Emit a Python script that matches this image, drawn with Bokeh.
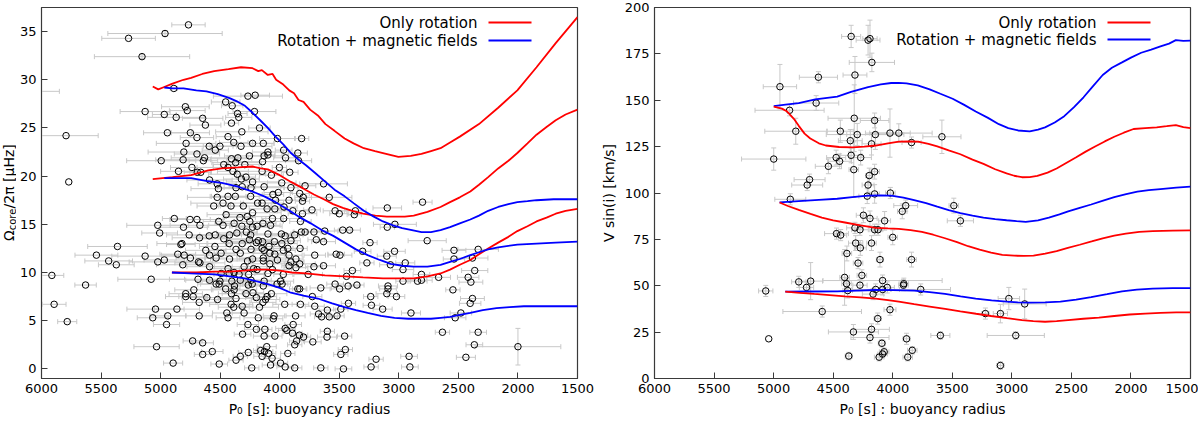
import math

from bokeh.embed import file_html
from bokeh.layouts import row
from bokeh.models import ColumnDataSource, FixedTicker, Label, Range1d, TeeHead, Whisker
from bokeh.plotting import figure
from bokeh.resources import INLINE

# ---------------- data ----------------
x_ticks = [6000, 5500, 5000, 4500, 4000, 3500, 3000, 2500, 2000, 1500]
omega_ticks = [0, 5, 10, 15, 20, 25, 30, 35]
vsini_ticks = [0, 25, 50, 75, 100, 125, 150, 175, 200]

# left panel: core rotation of the stars
p0_core = [
    4766, 4963, 5269, 5156, 4889, 6050, 4267, 4206, 4454, 4399,
    4792, 4776, 5130, 4354, 4212, 4969, 4869, 4344, 4647, 4405,
    4624, 4170, 4943, 4750, 4318, 5794, 4695, 4434, 3816, 4019,
    4786, 4386, 4228, 4138, 4592, 4502, 4325, 4541, 3967, 4805,
    4099, 4695, 3848, 4099, 4131, 4254, 3951, 4631, 4405, 4351,
    4995, 4811, 4641, 3842, 4144, 4370, 4293, 4470, 4737, 4003,
    4850, 4434, 4692, 4663, 4148, 4393, 3916, 4357, 4070, 4589,
    4322, 4283, 5771, 4228, 3983, 3787, 3632, 4525, 4315, 4241,
    4131, 3906, 4515, 4367, 4244, 4057, 4012, 3832, 4525, 4434,
    4373, 3803, 3584, 4035, 3922, 3809, 4476, 4186, 4148, 4554,
    4306, 4409, 4106, 4041, 3964, 3890, 3729, 3097, 2801, 3365,
    3374, 3535, 3500, 3809, 4228, 4450, 4273, 4334, 4061, 3967,
    4885, 4695, 4753, 4512, 4251, 4141, 5024, 3033, 3097, 3826,
    4808, 4476, 4383, 4670, 4318, 4228, 4190, 4077, 3471, 3413,
    3622, 3713, 5008, 4760, 4541, 4470, 4421, 4360, 4280, 4244,
    4099, 3986, 3954, 3874, 3819, 3787, 4673, 4592, 4254, 4180,
    4144, 4044, 3983, 3906, 3693, 3632, 3242, 2762, 4821, 4830,
    4424, 4315, 4196, 5362, 4544, 4367, 4241, 4148, 4090, 3932,
    3829, 4621, 4492, 4331, 4131, 4083, 3970, 3304, 3036, 2537,
    2334, 5539, 5130, 4856, 4802, 4750, 4589, 4534, 4421, 4228,
    4138, 4041, 3922, 3864, 3706, 3526, 3494, 3101, 2382, 2537,
    5436, 5372, 5024, 4969, 4682, 4670, 4270, 4138, 4083, 4019,
    3906, 3832, 3922, 3864, 3268, 3071, 2946, 4589, 4434, 4299,
    4219, 4190, 4061, 3713, 3632, 4814, 2965, 3390, 2363, 5913,
    5079, 4492, 4424, 4383, 4341, 4261, 4099, 3970, 3761, 3439,
    2810, 2666, 2418, 4589, 4502, 4402, 4331, 4241, 4131, 3993,
    3980, 4686, 2965, 2843, 2810, 2395, 4534, 4509, 4380, 4264,
    4231, 4138, 4022, 3535, 3352, 3426, 3091, 5630, 4721, 4454,
    4383, 3848, 3832, 3655, 3497, 3091, 2546, 4789, 4405, 4283,
    4225, 4070, 4106, 4789, 4727, 4612, 4522, 4367, 4196, 4119,
    3726, 3236, 3101, 3020, 2382, 4676, 4141, 4408, 4315, 3958,
    3826, 3706, 3423, 3230, 2401, 5894, 4386, 4170, 3136, 4863,
    5043, 3600, 3487, 4444, 4299, 2898, 2479, 3674, 4940, 4676,
    4048, 3867, 3648, 3584, 3519, 5066, 4434, 4180, 4054, 2527,
    5784, 4950, 4267, 3887, 3954, 4196, 4125, 3940, 3600, 3893,
    4312, 2634, 2334, 4131, 4041, 3835, 3800, 3603, 3455, 4731,
    4647, 3858, 3722, 3874, 5034, 4109, 2000, 2366, 4566, 4160,
    4128, 3449, 4264, 4093, 4647, 3932, 3487, 4148, 4331, 2914,
    2437, 4367, 4064, 3191, 4895, 4508, 3993, 4077, 4235, 3954,
    3874, 3655, 3465, 3233, 2907,
]
omega_core = [
    35.7, 34.8, 34.3, 32.4, 29.1, 28.8, 28.3, 28.4, 27.7, 27.3,
    27.2, 26.8, 26.7, 26.5, 26.7, 26.4, 26.1, 26.1, 26.0, 25.5,
    25.3, 25.0, 24.5, 24.5, 24.6, 24.2, 24.0, 24.1, 23.9, 23.9,
    23.4, 23.5, 23.4, 23.4, 23.1, 23.1, 23.1, 22.7, 22.7, 22.5,
    22.5, 22.3, 22.4, 22.2, 22.1, 22.1, 21.9, 21.9, 21.8, 21.9,
    21.6, 21.7, 21.6, 21.6, 21.5, 21.4, 21.2, 21.2, 20.9, 20.9,
    20.5, 20.9, 20.4, 20.4, 20.5, 20.5, 20.4, 20.2, 20.1, 19.6,
    19.7, 19.9, 19.4, 19.4, 19.3, 19.0, 19.2, 19.2, 18.9, 18.8,
    18.9, 18.8, 18.7, 18.8, 17.9, 18.1, 18.3, 18.2, 17.8, 17.9,
    17.9, 17.8, 17.8, 17.5, 17.5, 17.4, 17.2, 17.2, 17.2, 16.9,
    16.9, 16.9, 16.6, 16.6, 16.8, 16.4, 16.5, 16.7, 17.3, 16.4,
    16.0, 16.4, 16.1, 16.1, 16.2, 16.0, 15.8, 15.7, 15.6, 15.6,
    15.6, 15.5, 15.5, 15.3, 15.3, 15.1, 14.9, 15.0, 14.7, 15.3,
    14.7, 14.9, 15.1, 14.9, 14.8, 14.7, 14.8, 14.9, 14.4, 14.4,
    14.3, 14.2, 14.1, 13.9, 13.9, 13.5, 13.9, 14.1, 14.2, 13.9,
    14.0, 14.0, 13.8, 13.9, 14.2, 14.2, 13.6, 13.8, 13.4, 13.3,
    13.2, 13.2, 13.0, 13.3, 13.4, 13.2, 13.1, 13.3, 13.0, 12.9,
    13.0, 13.0, 13.1, 12.7, 12.7, 12.4, 12.4, 12.5, 12.7, 12.5,
    12.5, 12.3, 12.0, 12.0, 12.3, 12.0, 12.3, 12.2, 12.2, 12.3,
    12.4, 11.8, 11.7, 11.9, 11.8, 11.5, 11.8, 11.5, 11.4, 11.4,
    11.5, 11.9, 11.8, 11.4, 11.8, 11.9, 11.8, 11.7, 11.5, 11.4,
    11.2, 10.8, 11.1, 11.3, 11.1, 11.0, 11.2, 11.2, 10.9, 11.3,
    11.1, 10.9, 10.7, 10.5, 11.0, 10.8, 11.0, 10.6, 10.4, 10.6,
    10.4, 10.3, 10.3, 10.6, 10.7, 10.8, 10.3, 10.2, 10.2, 9.7,
    9.3, 9.9, 9.9, 10.0, 9.8, 9.8, 9.9, 9.8, 9.8, 9.6,
    9.8, 9.5, 9.5, 9.2, 9.1, 9.1, 9.2, 9.2, 9.1, 9.1,
    8.8, 9.3, 9.1, 9.1, 9.2, 9.0, 8.8, 8.8, 8.6, 8.7,
    8.8, 8.6, 8.8, 8.8, 8.7, 8.6, 8.6, 8.7, 8.2, 8.3,
    8.2, 8.3, 8.3, 8.4, 8.3, 8.3, 8.2, 7.8, 7.8, 7.8,
    7.9, 7.8, 7.5, 7.5, 7.5, 7.4, 7.2, 7.3, 7.4, 7.2,
    7.5, 7.5, 7.8, 7.5, 7.3, 6.9, 6.9, 6.7, 6.5, 6.7,
    6.7, 6.5, 6.8, 6.6, 6.8, 6.7, 6.4, 6.4, 6.2, 6.2,
    6.2, 6.1, 6.2, 5.8, 5.8, 5.8, 5.8, 5.7, 5.5, 5.5,
    5.5, 5.5, 5.4, 5.4, 5.5, 5.3, 5.3, 5.3, 5.2, 5.3,
    4.9, 4.6, 4.6, 4.6, 4.2, 4.1, 4.1, 4.0, 3.9, 3.7,
    3.6, 3.8, 3.8, 3.4, 3.4, 3.5, 3.3, 3.3, 3.4, 2.9,
    2.7, 2.9, 2.8, 2.5, 2.3, 2.3, 2.3, 2.5, 1.8, 1.9,
    1.8, 2.0, 1.7, 1.6, 1.5, 1.6, 1.5, 1.3, 1.3, 1.3,
    1.2, 0.9, 1.1, 1.0, 0.6, 0.5, 0.6, 0.4, 0.1, 0.2,
    0.1, 0.1, 0.0, 0.2, 0.2,
]
p0_core_err = [
    140, 480, 225, 400, 30, 200, 290, 120, 120, 90,
    200, 150, 210, 80, 180, 100, 240, 110, 170, 60,
    130, 90, 200, 160, 220, 270, 140, 100, 60, 150,
    250, 120, 180, 90, 200, 140, 260, 110, 70, 300,
    130, 190, 80, 60, 150, 210, 100, 280, 170, 90,
    290, 230, 120, 110, 300, 200, 140, 90, 180, 60,
    150, 260, 110, 90, 210, 130, 70, 240, 100, 190,
    150, 80, 0, 220, 120, 90, 200, 160, 110, 280,
    140, 60, 230, 100, 170, 90, 120, 80, 250, 150,
    200, 70, 190, 130, 100, 60, 270, 120, 180, 140,
    210, 90, 150, 80, 110, 130, 70, 120, 80, 90,
    60, 100, 80, 120, 240, 160, 190, 130, 90, 150,
    100, 220, 170, 130, 280, 110, 260, 180, 60, 90,
    200, 120, 160, 250, 100, 140, 210, 80, 70, 90,
    110, 60, 150, 190, 130, 220, 100, 170, 90, 260,
    140, 80, 120, 70, 60, 100, 230, 150, 190, 110,
    270, 90, 130, 80, 70, 100, 60, 160, 210, 120,
    180, 140, 240, 250, 130, 160, 100, 200, 90, 120,
    60, 170, 110, 220, 80, 140, 100, 70, 90, 100,
    170, 180, 280, 150, 190, 120, 230, 90, 160, 130,
    200, 80, 110, 60, 90, 70, 100, 80, 130, 90,
    200, 150, 240, 170, 120, 210, 140, 90, 180, 70,
    110, 130, 60, 100, 60, 90, 80, 190, 150, 250,
    120, 80, 160, 70, 100, 220, 90, 70, 110, 100,
    280, 170, 130, 90, 210, 140, 110, 80, 120, 60,
    70, 100, 90, 200, 150, 120, 260, 90, 170, 110,
    70, 240, 60, 80, 90, 100, 130, 180, 100, 220,
    80, 140, 90, 70, 60, 100, 80, 90, 160, 120,
    190, 70, 60, 90, 80, 70, 60, 140, 110, 200,
    90, 130, 80, 170, 120, 210, 100, 150, 90, 120,
    80, 60, 90, 70, 100, 140, 110, 180, 90, 100,
    70, 80, 60, 70, 90, 100, 130, 160, 80, 190,
    240, 70, 60, 120, 100, 80, 90, 70, 150, 110,
    90, 80, 60, 70, 60, 130, 100, 120, 80, 90,
    80, 110, 90, 70, 80, 100, 60, 70, 60, 80,
    70, 60, 70, 90, 60, 70, 60, 80, 60, 80,
    90, 60, 70, 60, 190, 80, 360, 70, 90, 60,
    70, 60, 80, 60, 70, 60, 60, 70, 60, 70,
    80, 60, 70, 60, 80, 70, 60, 70, 60, 70,
    60, 60, 70, 60, 70,
]
# the few visible vertical error bars (index in the lists above -> half length)
omega_core_err = {1: 0.3, 3: 0.2, 366: 1.9}

# left panel models
core_rot_top_p0 = [5066, 5020, 4980, 4900, 4808, 4744, 4650, 4550, 4430, 4325, 4228, 4180, 4150, 4100,
                   4060, 4030, 3970, 3920, 3880, 3842, 3800, 3745, 3680, 3616, 3540, 3455, 3380, 3294,
                   3200, 3133, 3004, 2900, 2810, 2730, 2650, 2570, 2488, 2327, 2166, 2005, 1844, 1683, 1500]
core_rot_top = [29.3, 29.0, 29.2, 29.6, 30.0, 30.2, 30.6, 30.9, 31.1, 31.3, 31.2, 30.9, 31.0, 30.5,
                30.6, 30.0, 29.5, 28.9, 28.6, 27.9, 27.7, 26.9, 26.3, 25.4, 24.7, 23.9, 23.4, 22.9,
                22.6, 22.4, 22.0, 22.1, 22.3, 22.6, 22.9, 23.5, 24.1, 25.4, 27.1, 28.9, 31.3, 33.8, 36.5]
core_rot_mid_p0 = [5066, 4900, 4744, 4600, 4486, 4350, 4228, 4160, 4100, 4000, 3906, 3800, 3713, 3630,
                   3552, 3470, 3390, 3300, 3197, 3100, 3036, 2950, 2875, 2760, 2650, 2570, 2488, 2400,
                   2327, 2250, 2166, 2080, 2005, 1920, 1844, 1760, 1683, 1600, 1500]
core_rot_mid = [19.7, 19.9, 20.1, 20.6, 20.8, 20.9, 21.0, 20.8, 20.7, 20.1, 19.4, 18.7, 18.1, 17.6,
                17.1, 16.7, 16.4, 16.1, 15.9, 15.8, 15.8, 15.8, 15.9, 16.3, 16.8, 17.3, 17.8, 18.4,
                19.1, 19.9, 20.8, 21.6, 22.4, 23.4, 24.3, 25.1, 25.8, 26.4, 26.9]
core_rot_bot_p0 = [4905, 4700, 4550, 4421, 4300, 4200, 4100, 4000, 3900, 3777, 3620, 3455, 3300, 3133,
                   3000, 2875, 2760, 2650, 2570, 2488, 2400, 2327, 2250, 2166, 2080, 2005, 1920, 1844,
                   1760, 1683, 1600, 1500]
core_rot_bot = [10.0, 10.0, 10.1, 10.1, 10.2, 10.3, 10.3, 10.2, 10.0, 9.9, 9.7, 9.6, 9.5, 9.4,
                9.4, 9.4, 9.6, 9.9, 10.3, 10.8, 11.3, 11.9, 12.5, 13.1, 13.7, 14.3, 14.8, 15.3,
                15.7, 16.1, 16.4, 16.6]
core_mag_top_p0 = [4969, 4900, 4808, 4700, 4615, 4520, 4421, 4350, 4292, 4230, 4164, 4100, 4035, 3970,
                   3906, 3840, 3777, 3700, 3616, 3540, 3455, 3380, 3294, 3210, 3133, 3050, 2972, 2890,
                   2810, 2730, 2650, 2570, 2488, 2400, 2327, 2250, 2166, 2080, 2005, 1920, 1844, 1700, 1500]
core_mag_top = [29.2, 29.1, 29.1, 28.9, 28.8, 28.5, 28.1, 27.7, 27.3, 26.6, 25.8, 25.0, 24.1, 23.3,
                22.4, 21.7, 21.1, 20.3, 19.4, 18.6, 17.9, 17.2, 16.4, 15.8, 15.3, 14.9, 14.6, 14.4,
                14.2, 14.2, 14.4, 14.7, 15.1, 15.5, 15.9, 16.4, 16.8, 17.1, 17.3, 17.4, 17.5, 17.6, 17.6]
core_mag_mid_p0 = [4969, 4850, 4744, 4620, 4486, 4350, 4228, 4130, 4035, 3940, 3842, 3740, 3648, 3550,
                   3455, 3360, 3262, 3160, 3068, 2970, 2875, 2760, 2650, 2570, 2488, 2400, 2327, 2250,
                   2166, 2005, 1844, 1683, 1500]
core_mag_mid = [19.8, 19.8, 19.8, 19.5, 19.3, 18.9, 18.4, 17.9, 17.3, 16.6, 15.8, 15.1, 14.4, 13.8,
                13.1, 12.4, 11.8, 11.3, 10.9, 10.7, 10.6, 10.6, 10.8, 11.1, 11.4, 11.8, 12.1, 12.4,
                12.6, 12.9, 13.0, 13.1, 13.2]
core_mag_bot_p0 = [4905, 4750, 4550, 4420, 4292, 4200, 4100, 4000, 3906, 3800, 3680, 3560, 3455, 3360,
                   3262, 3150, 3036, 2920, 2810, 2730, 2650, 2570, 2488, 2400, 2295, 2180, 2070, 1950,
                   1844, 1700, 1500]
core_mag_bot = [10.0, 9.9, 9.8, 9.6, 9.4, 9.1, 8.8, 8.4, 7.9, 7.6, 7.3, 6.8, 6.4, 6.1,
                5.8, 5.5, 5.3, 5.2, 5.2, 5.2, 5.3, 5.4, 5.6, 5.8, 6.1, 6.3, 6.4, 6.5,
                6.5, 6.5, 6.5]

# right panel: surface velocities
p0_surf = [4349, 4207, 4191, 4175, 4624, 4317, 4947, 4643, 4866, 4323,
           4152, 4814, 4440, 4298, 4146, 4023, 3949, 3587, 4356, 4178,
           3842, 4999, 4475, 4349, 4446, 4269, 4540, 4327, 4152, 4197,
           4698, 4718, 4207, 4860, 4214, 4152, 4020, 3891, 3920, 3487,
           4246, 4191, 4068, 3432, 4317, 4275, 4152, 4123, 4472, 4437,
           4000, 4311, 4178, 4272, 4385, 4107, 3842, 4291, 4259, 4404,
           4789, 4689, 4388, 4085, 3907, 3910, 4275, 4724, 4046, 4143,
           4085, 3765, 4378, 5066, 4165, 3025, 2892, 4023, 4592, 3222,
           3096, 4126, 4178, 4330, 4191, 3600, 2967, 5041, 3884, 4091,
           3836, 4072, 4085, 4369, 4114, 3874, 3096]
vsini = [184.4, 182.4, 183.2, 170.4, 162.4, 163.6, 157.3, 148.5, 144.6, 140.3,
         139.1, 133.3, 133.3, 131.5, 131.5, 132.3, 132.3, 130.3, 128.2, 126.5,
         127.2, 118.3, 119.1, 120.3, 117.1, 119.1, 114.4, 112.6, 111.5, 109.4,
         107.2, 104.3, 104.3, 96.6, 98.3, 99.5, 100.0, 93.2, 90.1, 93.2,
         88.0, 86.3, 85.0, 85.0, 81.2, 80.2, 80.2, 80.2, 78.1, 77.3,
         76.1, 73.0, 73.0, 70.4, 67.4, 64.1, 64.1, 62.2, 55.6, 54.5,
         52.1, 52.5, 51.1, 52.8, 51.1, 50.3, 50.3, 49.1, 49.1, 48.0,
         48.0, 48.0, 47.4, 47.2, 45.5, 43.1, 40.2, 37.1, 36.1, 35.0,
         35.0, 32.3, 26.5, 25.1, 22.1, 23.2, 23.2, 21.4, 21.4, 19.0,
         15.2, 14.4, 13.2, 12.1, 11.5, 11.5, 7.0]
p0_surf_err = [80, 100, 60, 190, 160, 100, 140, 190, 290, 220,
               120, 260, 110, 260, 240, 170, 280, 160, 100, 80,
               80, 270, 80, 90, 100, 90, 110, 40, 40, 30,
               130, 130, 50, 130, 70, 40, 40, 100, 40, 40,
               60, 60, 50, 110, 70, 70, 40, 40, 100, 50,
               40, 60, 40, 50, 40, 30, 40, 40, 40, 40,
               60, 100, 40, 500, 40, 40, 60, 60, 60, 200,
               70, 250, 40, 60, 90, 90, 180, 50, 330, 30,
               60, 30, 150, 210, 160, 80, 240, 0, 30, 30,
               40, 40, 40, 30, 40, 40, 30]
vsini_err = [6, 8, 10, 5, 3, 10, 12, 4, 3, 18,
             4, 7, 6, 6, 8, 13, 5, 9, 6, 6,
             3, 6, 4, 4, 4, 4, 4, 15, 4, 4,
             3, 3, 4, 3, 4, 5, 3, 3, 4, 4,
             4, 4, 5, 3, 3, 3, 3, 3, 3, 3,
             4, 4, 4, 4, 4, 4, 4, 3, 3, 15,
             3, 10, 3, 3, 3, 3, 3, 3, 3, 3,
             3, 3, 4, 3, 3, 6, 8, 3, 3, 3,
             5, 3, 3, 4, 3, 2, 2, 0, 3, 2,
             2, 2, 2, 2, 2, 2, 2]

# right panel models
surf_mag_top_p0 = [4999, 4900, 4789, 4650, 4466, 4350, 4207, 4100, 4013, 3950, 3884, 3790, 3690, 3600,
                   3497, 3400, 3303, 3200, 3109, 3030, 2947, 2850, 2780, 2721, 2640, 2560, 2480, 2398,
                   2320, 2237, 2160, 2075, 2000, 1914, 1830, 1752, 1680, 1623, 1560, 1500]
surf_mag_top = [146.8, 147.6, 148.5, 150.5, 152.0, 154.5, 157.1, 158.5, 159.3, 159.4, 159.1, 158.0, 155.9, 153.5,
                150.8, 147.5, 143.9, 140.5, 137.1, 135.0, 133.7, 133.2, 134.2, 135.4, 138.0, 141.4, 146.2, 151.6,
                157.5, 163.6, 167.5, 170.4, 173.0, 175.6, 177.3, 179.0, 180.5, 182.4, 182.0, 182.1]
surf_rot_top_p0 = [4999, 4930, 4886, 4830, 4789, 4740, 4692, 4620, 4562, 4450, 4336, 4240, 4143, 4040,
                   3949, 3860, 3787, 3700, 3626, 3530, 3432, 3330, 3238, 3140, 3044, 2980, 2915, 2850,
                   2786, 2700, 2624, 2540, 2463, 2380, 2301, 2220, 2140, 2060, 1978, 1880, 1784, 1700,
                   1623, 1560, 1500]
surf_rot_top = [146.5, 145.5, 143.9, 140.0, 136.2, 132.0, 129.4, 126.8, 125.6, 124.8, 124.6, 125.0, 125.6, 126.8,
                127.7, 127.8, 127.7, 126.5, 125.1, 123.0, 120.9, 118.0, 115.7, 112.8, 110.6, 109.3, 108.5, 108.6,
                109.2, 111.0, 113.2, 116.3, 119.1, 122.3, 125.1, 127.8, 130.3, 132.5, 134.5, 135.0, 135.4, 136.0,
                136.6, 135.5, 135.0]
surf_mag_mid_p0 = [4950, 4789, 4620, 4466, 4340, 4207, 4100, 4013, 3910, 3820, 3720, 3626, 3530, 3432,
                   3330, 3238, 3140, 3044, 2960, 2883, 2780, 2689, 2600, 2527, 2430, 2334, 2240, 2140,
                   2040, 1946, 1850, 1752, 1620, 1500]
surf_mag_mid = [94.9, 95.6, 96.3, 96.9, 97.8, 98.6, 98.7, 98.6, 97.5, 96.1, 94.5, 92.6, 90.8, 89.2,
                87.8, 86.7, 85.9, 85.3, 84.8, 84.4, 85.3, 86.7, 88.5, 90.1, 92.0, 93.8, 95.8, 97.8,
                99.4, 100.7, 101.5, 102.1, 102.9, 103.4]
surf_rot_mid_p0 = [4950, 4880, 4789, 4690, 4595, 4500, 4401, 4270, 4143, 4040, 3949, 3850, 3755, 3660,
                   3561, 3460, 3367, 3270, 3174, 3080, 2980, 2900, 2818, 2720, 2624, 2530, 2430, 2330,
                   2237, 2140, 2043, 1930, 1817, 1650, 1500]
surf_rot_mid = [94.9, 93.0, 90.9, 88.7, 86.7, 85.3, 84.1, 82.5, 81.2, 80.9, 80.7, 80.0, 79.0, 77.5,
                75.6, 73.5, 71.3, 69.5, 67.9, 66.6, 66.2, 66.1, 66.2, 67.3, 68.7, 70.4, 72.1, 73.9,
                75.6, 77.0, 78.1, 79.0, 79.5, 79.7, 79.8]
surf_mag_bot_p0 = [4902, 4700, 4466, 4300, 4143, 4000, 3820, 3690, 3561, 3430, 3303, 3170, 3044, 2950,
                   2850, 2720, 2592, 2460, 2334, 2200, 2075, 1950, 1817, 1650, 1500]
surf_mag_bot = [46.8, 46.9, 47.0, 47.4, 47.7, 47.6, 47.4, 46.6, 45.6, 44.3, 43.1, 42.1, 41.4, 41.0,
                40.9, 41.0, 41.4, 42.5, 43.9, 45.5, 47.0, 47.9, 48.5, 48.7, 48.7]
surf_rot_bot_p0 = [4902, 4780, 4659, 4530, 4401, 4270, 4143, 4040, 3949, 3820, 3690, 3560, 3432, 3300,
                   3174, 3040, 2915, 2820, 2721, 2624, 2527, 2400, 2269, 2140, 2011, 1880, 1752, 1620, 1500]
surf_rot_bot = [46.8, 46.2, 45.6, 45.0, 44.3, 43.7, 43.1, 42.3, 41.4, 40.1, 38.8, 37.5, 36.2, 34.9,
                33.7, 32.5, 31.5, 30.9, 30.6, 30.9, 31.5, 32.2, 32.8, 33.7, 34.5, 35.0, 35.4, 35.6, 35.7]

legend_labels = ["Only rotation", "Rotation + magnetic fields"]

# ---------------- styling ----------------
FONT = "DejaVu Sans"
RED = "#ff0000"
BLUE = "#0000ff"
GRAY = "#c8c8c8"
EDGE = "#3a3a3a"
FRAME_H = 371
TOP, BOTTOM = 7, 40


def make_fig(y_range, frame_w, left, right, ticks_y):
    p = figure(x_range=Range1d(6000, 1500), y_range=y_range,
               frame_width=frame_w, frame_height=FRAME_H,
               min_border_left=left, min_border_right=right,
               min_border_top=TOP, min_border_bottom=BOTTOM,
               output_backend="svg", toolbar_location=None)
    p.xgrid.visible = False
    p.ygrid.visible = False
    p.outline_line_color = EDGE
    p.outline_line_width = 1.2
    p.xaxis.ticker = FixedTicker(ticks=x_ticks)
    p.yaxis.ticker = FixedTicker(ticks=ticks_y)
    for ax in (p.xaxis, p.yaxis):
        ax.major_tick_in = 6
        ax.major_tick_out = 0
        ax.minor_tick_line_color = None
        ax.axis_line_color = EDGE
        ax.major_tick_line_color = EDGE
        ax.major_label_text_font = FONT
        ax.major_label_text_font_size = "13px"
        ax.major_label_text_color = "black"
        ax.axis_label_text_font = FONT
        ax.axis_label_text_font_size = "14px"
        ax.axis_label_text_font_style = "normal"
        ax.axis_label_text_color = "black"
    return p


def add_points(p, xs, ys, xerr, yerr):
    xi = [i for i in range(len(xs)) if xerr[i] > 0]
    yi = [i for i in range(len(xs)) if yerr.get(i, 0) > 0]
    xsrc = ColumnDataSource(dict(base=[ys[i] for i in xi],
                                 lower=[xs[i] - xerr[i] for i in xi],
                                 upper=[xs[i] + xerr[i] for i in xi]))
    ysrc = ColumnDataSource(dict(base=[xs[i] for i in yi],
                                 lower=[ys[i] - yerr[i] for i in yi],
                                 upper=[ys[i] + yerr[i] for i in yi]))
    for src, dim in ((xsrc, "width"), (ysrc, "height")):
        w = Whisker(source=src, base="base", lower="lower", upper="upper", dimension=dim,
                    line_color=GRAY, line_width=1, level="underlay",
                    lower_head=TeeHead(size=5, line_color=GRAY, line_width=1),
                    upper_head=TeeHead(size=5, line_color=GRAY, line_width=1))
        p.add_layout(w)
    p.scatter(xs, ys, marker="circle", size=6.5, fill_color=None,
              line_color="black", line_width=1)


def add_legend(p, frame_w, text_right, line_x0, line_x1, rows_px):
    xr, yr = p.x_range, p.y_range
    dx = (xr.start - xr.end) / frame_w
    dy = (yr.end - yr.start) / FRAME_H
    for label, color, py in zip(legend_labels, (RED, BLUE), rows_px):
        y = yr.end - py * dy
        p.add_layout(Label(x=xr.start - text_right * dx, y=y, text=label,
                           text_align="right", text_baseline="middle",
                           text_font=FONT, text_font_size="15px", text_color="black"))
        p.segment(x0=[xr.start - line_x0 * dx], y0=[y], x1=[xr.start - line_x1 * dx], y1=[y],
                  line_color=color, line_width=2)


# ---------------- left panel ----------------
W1 = 536
p1 = make_fig(Range1d(-1, 37.5), W1, 22, 20, omega_ticks)
p1.xaxis.axis_label = "P\u2080 [s]: buoyancy radius"
add_points(p1, p0_core, omega_core, p0_core_err, omega_core_err)
for xs, ys, c in ((core_rot_top_p0, core_rot_top, RED), (core_rot_mid_p0, core_rot_mid, RED),
                  (core_rot_bot_p0, core_rot_bot, RED), (core_mag_top_p0, core_mag_top, BLUE),
                  (core_mag_mid_p0, core_mag_mid, BLUE), (core_mag_bot_p0, core_mag_bot, BLUE)):
    p1.line(xs, ys, line_color=c, line_width=1.8)
add_legend(p1, W1, 436, 447, 490, (15, 33))

# y label of the left panel with its subscript: a narrow strip holding three rotated labels
LAB_W = 16
lab = figure(x_range=Range1d(0, LAB_W), y_range=p1.y_range,
             frame_width=LAB_W, frame_height=FRAME_H,
             min_border_left=0, min_border_right=0, min_border_top=TOP, min_border_bottom=BOTTOM,
             x_axis_type=None, y_axis_type=None, output_backend="svg", toolbar_location=None)
lab.outline_line_color = None
lab.xgrid.visible = False
lab.ygrid.visible = False
dy1 = (p1.y_range.end - p1.y_range.start) / FRAME_H
y_lab = (p1.y_range.end + p1.y_range.start) / 2 - 48 * dy1
for txt, size, off_px, xpos in (("\u03a9", "14px", 0, 8), ("core", "10px", 10.7, 11.5),
                                 ("/2\u03c0 [\u03bcHz]", "14px", 32.6, 8)):
    lab.add_layout(Label(x=xpos, y=y_lab + off_px * dy1, text=txt,
                         angle=math.pi / 2, text_align="left", text_baseline="middle",
                         text_font=FONT, text_font_size=size, text_color="black"))

# ---------------- right panel ----------------
W2 = 536
p2 = make_fig(Range1d(0, 200), W2, 46, 8, vsini_ticks)
p2.xaxis.axis_label = "P\u2080 [s] : buoyancy radius"
p2.yaxis.axis_label = "V sin(i) [km/s]"
add_points(p2, p0_surf, vsini, p0_surf_err, dict(enumerate(vsini_err)))
for xs, ys, c in ((surf_mag_top_p0, surf_mag_top, BLUE), (surf_rot_top_p0, surf_rot_top, RED),
                  (surf_mag_mid_p0, surf_mag_mid, BLUE), (surf_rot_mid_p0, surf_rot_mid, RED),
                  (surf_mag_bot_p0, surf_mag_bot, BLUE), (surf_rot_bot_p0, surf_rot_bot, RED)):
    p2.line(xs, ys, line_color=c, line_width=1.8)
add_legend(p2, W2, 442, 453, 496, (15, 32))

layout = row(lab, p1, p2)
open("out.html", "w").write(file_html(layout, INLINE))
